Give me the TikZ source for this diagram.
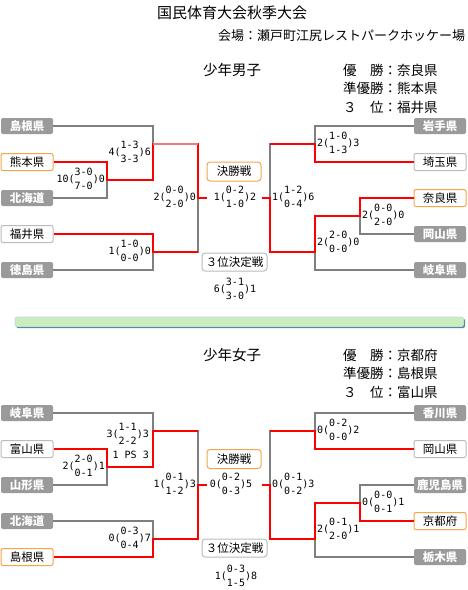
\documentclass[tikz,border=0pt]{standalone}
\usepackage{fontspec}
\setmainfont{Noto Sans CJK JP}
\newfontfamily\digitfont{DejaVu Sans Mono}
\definecolor{lnGray}{HTML}{7F7F7F}
\definecolor{lnRed}{HTML}{FF0000}
\definecolor{lnPink}{HTML}{F07878}
\definecolor{boxGray}{HTML}{9A9A9A}
\definecolor{boxBorder}{HTML}{BBBBBB}
\definecolor{boxOrange}{HTML}{F6A54C}
\definecolor{divGreen}{HTML}{CCEDBE}
\definecolor{divShadow}{HTML}{5B8C8C}
\definecolor{divBorder}{HTML}{BCDDE5}
\newcommand\scfont{\fontsize{10}{14}\selectfont\digitfont}
\newcommand\myscore[4]{\mbox{#1(\begin{tabular}{@{}c@{}}#2\\#3\end{tabular})#4}}
\begin{document}
\begin{tikzpicture}[x=1pt,y=-1pt,
  gl/.style={draw=lnGray, line width=2pt},
  rl/.style={draw=lnRed, line width=2pt},
  pl/.style={draw=lnPink, line width=2pt},
  team/.style={minimum width=52pt, minimum height=16pt, inner sep=0pt, rounded corners=2pt, font=\fontsize{11.5}{13}\selectfont},
  tgray/.style={team, fill=boxGray, text=white, font=\fontsize{11.5}{13}\selectfont\bfseries},
  twhite/.style={team, draw=boxBorder, fill=white, line width=1pt, minimum height=17pt},
  torange/.style={team, draw=boxOrange, fill=white, line width=1pt, minimum height=17pt},
  fbox/.style={minimum width=54pt, minimum height=19pt, inner sep=0pt, rounded corners=3pt, line width=1pt, fill=white, font=\fontsize{11.5}{13}\selectfont},
  scl/.style={anchor=east, inner sep=0pt, font=\scfont},
  scr/.style={anchor=west, inner sep=0pt, font=\scfont},
  scc/.style={inner sep=0pt, font=\scfont},
  hdr/.style={anchor=west, inner sep=0pt, font=\fontsize{14.5}{17}\selectfont},
  res/.style={anchor=west, inner sep=0pt, font=\fontsize{13.5}{16}\selectfont}]
\path[use as bounding box, fill=white] (0,0) rectangle (468,590);

% headings
\node[anchor=west, inner sep=0pt, font=\fontsize{15}{18}\selectfont] (title) at (157,13) {国民体育大会秋季大会};
\node[anchor=west, inner sep=0pt, font=\fontsize{13}{16}\selectfont] (venue) at (218,36) {会場：瀬戸町江尻レストパークホッケー場};
\node[hdr] (boys) at (203,70) {少年男子};
\node[res] (bres1) at (343,70) {優　勝：奈良県};
\node[res] (bres2) at (343,88) {準優勝：熊本県};
\node[res] (bres3) at (343,107) {３　位：福井県};
\node[hdr] (girls) at (203,355) {少年女子};
\node[res] (gres1) at (343,355) {優　勝：京都府};
\node[res] (gres2) at (343,373) {準優勝：島根県};
\node[res] (gres3) at (343,392) {３　位：富山県};

% divider
\fill[divShadow, rounded corners=2pt] (16,318.5) rectangle (465,328);
\filldraw[fill=divGreen, draw=divBorder, line width=0.7pt, rounded corners=2pt] (15,317) rectangle (463.5,326.5);

% ===== boys teams
\node[tgray] (shimane) at (27,126) {島根県};
\node[torange] (kumamoto) at (27,162) {熊本県};
\node[tgray] (hokkaido) at (27,198) {北海道};
\node[twhite] (fukui) at (27,234) {福井県};
\node[tgray] (tokushima) at (27,270) {徳島県};
\node[tgray] (iwate) at (440,126) {岩手県};
\node[twhite] (saitama) at (440,162) {埼玉県};
\node[torange] (nara) at (440,198) {奈良県};
\node[tgray] (okayama) at (440,234) {岡山県};
\node[tgray] (gifu) at (440,270) {岐阜県};

\coordinate (bj1) at (107,180);
\coordinate (bj2) at (153,144);
\coordinate (bj3) at (153,252);
\coordinate (bj4) at (198,198);
\coordinate (bf1) at (207,198);
\coordinate (bj5) at (315,144);
\coordinate (bj6) at (360,216);
\coordinate (bj7) at (315,252);
\coordinate (bj8) at (270,198);
\coordinate (bf2) at (262,198);

\draw[gl] (kumamoto.east) -| (bj1) |- (hokkaido.east);
\draw[gl] (shimane.east) -| (bj2) |- (bj1);
\draw[gl] (fukui.east) -| (bj3) |- (tokushima.east);
\draw[gl] (bj2) -| (bj4) |- (bj3);
\draw[gl] (iwate.west) -| (bj5) |- (saitama.west);
\draw[gl] (nara.west) -| (bj6) |- (okayama.west);
\draw[gl] (bj6) -| (bj7) |- (gifu.west);
\draw[gl] (bj5) -| (bj8) |- (bj7);

\draw[rl] (kumamoto.east) -| (bj1) -| (bj2) -| (bj4) -- (bf1);
\draw[pl] (bj2) -- (bj2 -| bj4);
\draw[rl] (fukui.east) -| (bj3) -- (bj3 -| bj4);
\draw[rl] (saitama.west) -| (bj5) -- (bj5 -| bj8);
\draw[rl] (nara.west) -| (bj6) -| (bj7) -| (bj8) -- (bf2);

\node[fbox, draw=boxOrange] (bfinal) at (234,171.5) {決勝戦};
\node[fbox, draw=boxBorder, minimum width=65pt, minimum height=18pt] (bthird) at (234.5,262) {３位決定戦};

\node[scl] (sb1) at (105,180) {\myscore{10}{3-0}{7-0}{0}};
\node[scl] (sb2) at (151,153) {\myscore{4}{1-3}{3-3}{6}};
\node[scl] (sb3) at (151,252) {\myscore{1}{1-0}{0-0}{0}};
\node[scl] (sb4) at (196,198) {\myscore{2}{0-0}{2-0}{0}};
\node[scc] (sbf) at (235,198) {\myscore{1}{0-2}{1-0}{2}};
\node[scc] (sbt) at (235,290) {\myscore{6}{3-1}{3-0}{1}};
\node[scr] (sb5) at (272,198) {\myscore{1}{1-2}{0-4}{6}};
\node[scr] (sb6) at (317,144) {\myscore{2}{1-0}{1-3}{3}};
\node[scr] (sb7) at (362,216) {\myscore{2}{0-0}{2-0}{0}};
\node[scr] (sb8) at (317,243) {\myscore{2}{2-0}{0-0}{0}};

% ===== girls teams
\node[tgray] (gifuG) at (27,413) {岐阜県};
\node[twhite] (toyama) at (27,449) {富山県};
\node[tgray] (yamagata) at (27,485) {山形県};
\node[tgray] (hokkaidoG) at (27,521) {北海道};
\node[torange] (shimaneG) at (27,557) {島根県};
\node[tgray] (kagawa) at (440,413) {香川県};
\node[twhite] (okayamaG) at (440,449) {岡山県};
\node[tgray] (kagoshima) at (440,485) {鹿児島県};
\node[torange] (kyoto) at (440,521) {京都府};
\node[tgray] (tochigi) at (440,557) {栃木県};

\coordinate (gj1) at (107,467);
\coordinate (gj2) at (153,431);
\coordinate (gj3) at (153,539);
\coordinate (gj4) at (198,485);
\coordinate (gf1) at (207,485);
\coordinate (gj5) at (315,431);
\coordinate (gj6) at (360,503);
\coordinate (gj7) at (315,539);
\coordinate (gj8) at (270,485);
\coordinate (gf2) at (262,485);

\draw[gl] (toyama.east) -| (gj1) |- (yamagata.east);
\draw[gl] (gifuG.east) -| (gj2) |- (gj1);
\draw[gl] (hokkaidoG.east) -| (gj3) |- (shimaneG.east);
\draw[gl] (gj2) -| (gj4) |- (gj3);
\draw[gl] (kagawa.west) -| (gj5) |- (okayamaG.west);
\draw[gl] (kagoshima.west) -| (gj6) |- (kyoto.west);
\draw[gl] (gj6) -| (gj7) |- (tochigi.west);
\draw[gl] (gj5) -| (gj8) |- (gj7);

\draw[rl] (toyama.east) -| (gj1) -| (gj2) -- (gj2 -| gj4);
\draw[rl] (shimaneG.east) -| (gj3) -| (gj4) -- (gf1);
\draw[rl] (okayamaG.west) -| (gj5) -- (gj5 -| gj8);
\draw[rl] (kyoto.west) -| (gj6) -| (gj7) -| (gj8) -- (gf2);

\node[fbox, draw=boxOrange] (gfinal) at (234,459) {決勝戦};
\node[fbox, draw=boxBorder, minimum width=65pt, minimum height=18pt] (gthird) at (234.5,548) {３位決定戦};

\node[scl] (sg1) at (105,467) {\myscore{2}{2-0}{0-1}{1}};
\node[scl] (sg2) at (149,435) {\myscore{3}{1-1}{2-2}{3}};
\node[scl] (sg2p) at (149,455) {1 PS 3};
\node[scl] (sg3) at (151,539) {\myscore{0}{0-3}{0-4}{7}};
\node[scl] (sg4) at (196,485) {\myscore{1}{0-1}{1-2}{3}};
\node[scc] (sgf) at (231,485) {\myscore{0}{0-2}{0-3}{5}};
\node[scc] (sgt) at (236,577) {\myscore{1}{0-3}{1-5}{8}};
\node[scr] (sg5) at (272,485) {\myscore{0}{0-1}{0-2}{3}};
\node[scr] (sg6) at (317,431) {\myscore{0}{0-2}{0-0}{2}};
\node[scr] (sg7) at (362,503) {\myscore{0}{0-0}{0-1}{1}};
\node[scr] (sg8) at (317,530) {\myscore{2}{0-1}{2-0}{1}};
\end{tikzpicture}
\end{document}
